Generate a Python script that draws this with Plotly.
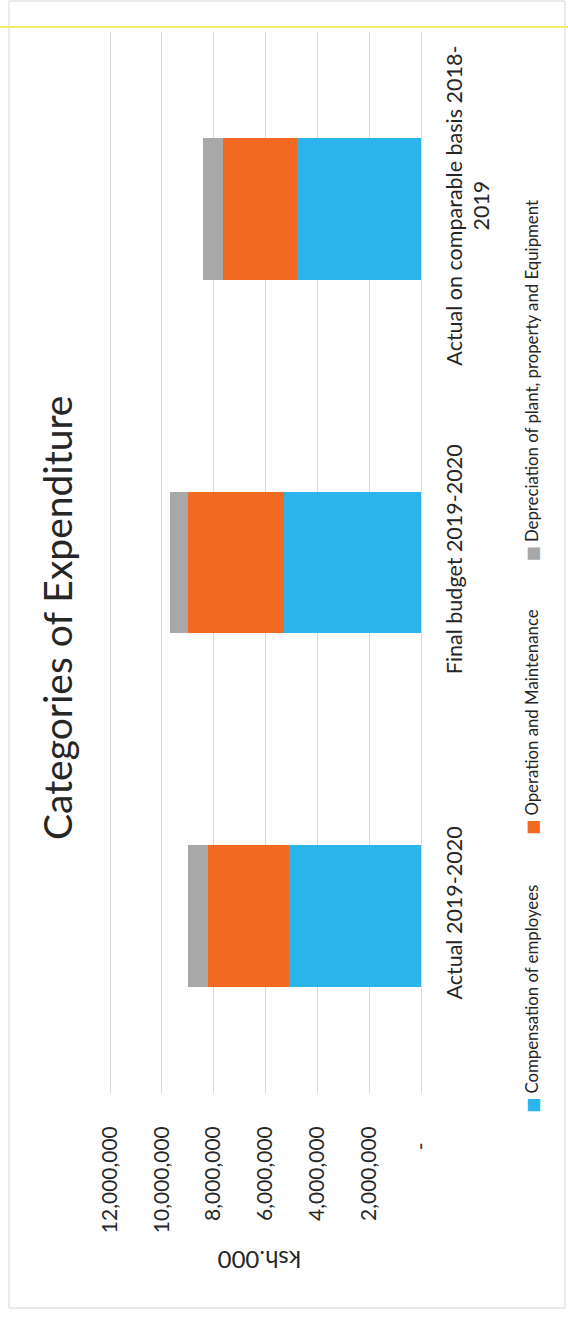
import plotly.graph_objects as go

W, H = 568, 1319

categories = ["Actual 2019-2020", "Final budget 2019-2020", "Actual on comparable basis 2018-2019"]
category_labels = ["Actual 2019-2020", "Final budget 2019-2020", "Actual on comparable basis 2018-<br>2019"]
compensation = [5110000, 5270000, 4780000]
operation = [3090000, 3720000, 2870000]
depreciation = [800000, 690000, 750000]
series_names = ["Compensation of employees", "Operation and Maintenance",
                "Depreciation of plant, property and Equipment"]
colors = ["#2BB5EC", "#F26A22", "#A8A8A8"]
tick_vals = [0, 2000000, 4000000, 6000000, 8000000, 10000000, 12000000]
tick_text = ["-\u00a0\u00a0\u00a0", "2,000,000", "4,000,000", "6,000,000", "8,000,000",
             "10,000,000", "12,000,000"]
title_text = "Categories of Expenditure"
axis_title = "ksh.000"

# plot area in pixels (chart is drawn rotated 90 degrees counter-clockwise)
X12, X0 = 110, 421          # pixel positions of 12,000,000 and 0
L, R, T, B = 108, X0, 32, 1093
scale = (X0 - X12) / 12000000.0
x_max = 12000000 + (X12 - L) / scale


def px(x):
    return (x - L) / (R - L)


def py(y):
    return (B - y) / (B - T)


FONT = "Lato"
TXT = "#262626"

fig = go.Figure()
for name, vals, c in zip(series_names, [compensation, operation, depreciation], colors):
    fig.add_trace(go.Bar(y=categories, x=vals, name=name, orientation="h",
                         marker=dict(color=c, line=dict(width=0)), showlegend=False))

fig.update_layout(
    barmode="stack", bargap=0.6, width=W, height=H,
    margin=dict(l=L, r=W - R, t=T, b=H - B, pad=0),
    paper_bgcolor="white", plot_bgcolor="white",
    font=dict(family=FONT, color=TXT),
)
fig.update_xaxes(range=[x_max, 0], tickvals=tick_vals, ticktext=tick_text, tickangle=-90,
                 showgrid=True, gridcolor="#D9D9D9", gridwidth=1,
                 zeroline=True, zerolinecolor="#D9D9D9", zerolinewidth=1,
                 showline=False, ticks="", ticklabelstandoff=28,
                 tickfont=dict(size=21, family=FONT, color=TXT))
fig.update_yaxes(type="category", categoryarray=categories, tickvals=categories,
                 ticktext=category_labels, side="right", tickangle=-90, ticks="",
                 ticklabelstandoff=18, showgrid=False, showline=False, zeroline=False,
                 tickfont=dict(size=21.5, family=FONT, color=TXT))

ann = []
ann.append(dict(text=title_text, x=px(57), y=py(618), xref="paper", yref="paper",
                textangle=-90, showarrow=False, xanchor="center", yanchor="middle",
                font=dict(size=39, family=FONT, color=TXT)))
ann.append(dict(text=axis_title, x=px(260), y=py(1261), xref="paper", yref="paper",
                textangle=180, showarrow=False, xanchor="center", yanchor="middle",
                font=dict(size=24, family=FONT, color=TXT)))
legend_bottoms = [1115, 837, 564]
for name, c, yb in zip(series_names, colors, legend_bottoms):
    ann.append(dict(text='<span style="color:%s;font-size:16px;font-family:DejaVu Sans">\u25A0</span>\u00a0%s' % (c, name),
                    x=px(531), y=py(yb), xref="paper", yref="paper", textangle=-90,
                    showarrow=False, xanchor="center", yanchor="bottom",
                    font=dict(size=16.8, family=FONT, color=TXT)))
fig.update_layout(annotations=ann)

shapes = [
    dict(type="rect", xref="paper", yref="paper", x0=px(9), x1=px(565), y0=py(1), y1=py(1308),
         line=dict(color="#D6D6D6", width=1), layer="below"),
    dict(type="line", xref="paper", yref="paper", x0=px(0), x1=px(568), y0=py(27), y1=py(27),
         line=dict(color="#F3EC6A", width=2)),
]
fig.update_layout(shapes=shapes)

fig.write_html("out.html")
